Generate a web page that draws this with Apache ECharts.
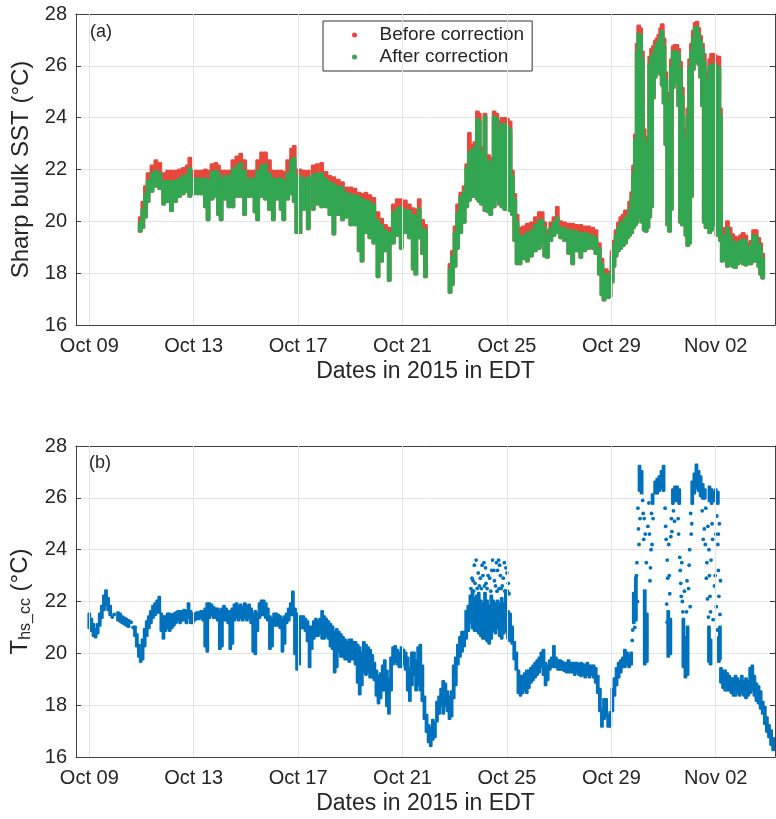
<!DOCTYPE html>
<html>
<head>
<meta charset="utf-8">
<title>Sharp bulk SST</title>
<script src="https://cdn.jsdelivr.net/npm/echarts@6/dist/echarts.min.js"></script>
<style>
    html, body { margin: 0; padding: 0; background: #fff; }
    #main { width: 776px; height: 819px; }
</style>
</head>
<body>
<div id="main"></div>
<script>
(function() {
    'use strict';

    // x values are days of October 2015 (Nov 01 = 32)
    var tickDays = [9, 13, 17, 21, 25, 29, 33];
    var tickLabels = ['Oct 09', 'Oct 13', 'Oct 17', 'Oct 21', 'Oct 25', 'Oct 29', 'Nov 02'];

    // panel (a): [day, after-correction low, after-correction high, before-correction high]
    var sstOct11to17 = [
        [10.95,19.65,19.9,20.1],[11.05,19.8,20.4,20.7],[11.15,20.2,21.0,21.3],[11.25,20.8,21.5,21.8],
        [11.4,21.2,21.8,22.1],[11.55,21.4,21.9,22.3],[11.7,21.3,21.8,22.2],[11.85,20.7,21.5,21.8],
        [12.0,20.8,21.5,21.9],[12.15,20.45,21.5,21.9],[12.3,20.8,21.5,21.9],[12.45,21.0,21.6,21.95],
        [12.6,21.1,21.7,22.0],[12.75,21.2,21.75,22.1],[12.85,21.0,22.0,22.4],[13.0,21.1,21.6,21.9],
        [13.15,21.1,21.6,21.9],[13.3,21.1,21.6,21.9],[13.45,20.6,21.6,21.95],[13.55,20.1,21.55,21.9],
        [13.7,20.9,21.85,22.15],[13.85,21.0,21.9,22.2],[13.95,20.3,21.8,22.1],[14.05,20.1,21.6,21.9],
        [14.2,20.9,21.7,21.9],[14.35,20.6,21.7,21.9],[14.5,20.6,21.95,22.3],[14.65,21.0,22.1,22.45],
        [14.8,21.0,22.2,22.55],[14.95,20.3,21.9,22.3],[15.1,21.0,21.6,21.9],[15.25,21.0,21.6,21.9],
        [15.35,20.4,21.6,21.9],[15.45,20.1,21.9,22.3],[15.6,21.0,22.1,22.6],[15.75,20.9,22.15,22.6],
        [15.9,20.5,21.8,22.3],[16.05,20.1,21.6,21.9],[16.2,20.9,21.6,21.9],[16.35,20.5,21.6,21.9],
        [16.45,20.1,21.5,21.85],[16.6,20.9,21.8,22.3],[16.75,21.1,22.3,22.75],[16.85,20.8,22.4,22.85],
        [16.95,19.6,21.7,21.95]
    ];
    var sstOct17to22 = [
        [17.07,19.6,21.7,21.95],[17.22,20.5,21.6,21.9],[17.39,19.75,21.65,21.9],[17.58,20.5,21.75,22.1],
        [17.73,20.7,21.8,22.15],[17.9,20.6,21.8,22.2],[18.07,20.6,21.6,21.85],[18.22,20.3,21.45,21.7],
        [18.37,19.55,21.4,21.65],[18.54,20.3,21.3,21.55],[18.7,20.1,21.25,21.45],[18.86,20.2,21.05,21.25],
        [19.02,19.9,21.0,21.25],[19.18,19.9,20.95,21.2],[19.34,18.9,20.9,21.05],[19.45,18.5,20.8,21.0],
        [19.6,19.6,20.75,21.05],[19.75,19.4,20.7,20.95],[19.9,19.2,20.6,20.85],[20.06,17.9,20.0,20.3],
        [20.2,18.5,19.8,20.05],[20.35,18.9,19.6,19.8],[20.49,17.75,19.5,19.7],[20.65,19.2,20.3,20.6],
        [20.8,19.5,20.45,20.8],[20.95,19.0,20.5,20.8],[21.11,19.6,20.4,20.75],[21.26,19.4,20.35,20.6],
        [21.41,18.2,20.2,20.45],[21.51,18.0,20.1,20.4],[21.64,19.4,20.45,20.8],[21.77,18.8,19.7,20.0],
        [21.88,17.9,19.6,19.8]
    ];
    var sstOct23to29 = [
        [22.82,17.3,18.1,18.3],[22.91,17.6,18.6,18.8],[23.01,18.3,19.5,19.75],[23.11,19.0,20.3,20.6],
        [23.23,19.6,20.9,21.05],[23.36,20.0,21.1,21.3],[23.46,20.6,22.0,22.15],[23.56,20.85,22.6,23.35],
        [23.66,21.0,22.7,22.9],[23.77,21.0,22.8,23.0],[23.87,20.9,23.9,24.18],[23.94,20.8,23.8,24.1],
        [24.03,20.7,22.6,22.8],[24.16,20.45,24.0,24.1],[24.29,20.4,22.3,22.5],[24.38,20.3,22.2,22.4],
        [24.51,20.6,24.0,24.18],[24.61,20.9,23.9,24.1],[24.71,20.7,23.4,23.8],[24.81,20.6,23.7,23.93],
        [24.92,20.5,23.7,23.93],[25.02,20.5,23.6,23.9],[25.12,20.45,23.5,23.8],[25.21,20.3,21.7,21.9],
        [25.3,19.3,20.8,21.0],[25.39,18.4,19.9,20.2],[25.5,18.4,19.4,19.7],[25.63,18.6,19.4,19.75],
        [25.78,18.5,19.5,19.85],[25.94,18.7,19.6,19.9],[26.09,18.9,19.8,20.1],[26.24,19.0,20.0,20.3],
        [26.35,19.2,20.0,20.3],[26.45,18.7,19.7,19.9],[26.55,18.65,19.4,19.6],[26.68,19.3,19.7,19.9],
        [26.8,19.5,19.9,20.1],[26.93,19.6,20.1,20.5],[27.06,19.4,19.7,19.95],[27.21,19.3,19.7,19.9],
        [27.37,18.8,19.6,19.85],[27.52,18.4,19.6,19.85],[27.67,18.9,19.55,19.8],[27.83,18.65,19.5,19.8],
        [27.98,18.9,19.5,19.75],[28.13,19.0,19.45,19.75],[28.29,19.0,19.4,19.7],[28.41,18.8,19.3,19.6],
        [28.54,18.0,18.9,19.1],[28.64,17.2,18.3,18.5],[28.72,17.0,17.8,18.0],[28.8,17.2,17.9,18.1],
        [28.88,17.1,17.8,18.0],[28.95,17.15,17.9,18.0],[29.03,17.7,18.6,18.8],[29.1,18.3,19.0,19.2],
        [29.18,18.7,19.4,19.6],[29.27,18.9,19.7,19.9],[29.36,19.0,19.9,20.1],[29.45,19.1,19.9,20.2],
        [29.54,19.2,20.1,20.36],[29.62,19.4,20.0,20.3],[29.7,19.5,20.4,20.7],[29.78,19.6,20.8,21.07]
    ];
    var sstOct30toNov02 = [
        [29.85,19.8,21.8,22.1],[29.92,19.9,23.1,23.3],[29.99,20.0,26.5,26.8],[30.05,20.2,27.2,27.5],
        [30.12,20.3,27.1,27.4],[30.19,20.0,26.2,26.5],[30.26,19.7,23.2,23.5],[30.33,19.65,22.9,23.2],
        [30.4,19.8,22.6,22.9],[30.47,20.2,26.0,26.3],[30.54,20.6,26.3,26.6],[30.61,24.8,26.4,26.7],
        [30.68,25.6,26.6,26.9],[30.75,25.8,26.8,27.0],[30.82,25.9,26.9,27.15],[30.89,25.7,27.1,27.4],
        [30.95,25.3,27.3,27.55],[31.02,24.6,26.7,27.0],[31.09,23.0,25.4,25.7],[31.16,19.9,24.2,24.5],
        [31.23,19.65,24.6,24.9],[31.3,20.5,25.9,26.2],[31.37,25.2,26.5,26.7],[31.44,25.6,26.5,26.75],
        [31.51,25.4,26.5,26.75],[31.58,24.5,26.4,26.6],[31.65,20.0,25.8,26.1],[31.72,19.9,24.8,25.1],
        [31.79,20.5,23.0,23.3],[31.86,19.5,23.2,23.5],[31.93,19.1,24.0,24.3],[32.0,19.2,25.9,26.2],
        [32.07,21.0,26.5,26.8],[32.14,25.9,27.0,27.3],[32.21,26.2,27.4,27.6],[32.28,26.3,27.45,27.65],
        [32.35,26.1,27.2,27.4],[32.42,25.6,26.9,27.1],[32.49,24.5,26.6,26.8],[32.56,20.0,26.1,26.4],
        [32.63,19.8,25.4,25.7],[32.7,20.0,24.0,24.3],[32.77,19.6,25.9,26.2],[32.84,19.7,26.0,26.4],
        [32.91,21.0,26.0,26.4],[32.98,19.9,26.0,26.35],[33.05,19.5,25.9,26.3],[33.12,19.6,25.9,26.3],
        [33.18,19.3,24.0,24.3]
    ];
    var sstNov02to04 = [
        [33.25,18.5,19.2,19.5],[33.35,18.6,19.4,19.7],[33.45,18.3,19.7,19.95],[33.55,18.4,19.4,19.7],
        [33.65,18.3,19.2,19.45],[33.75,18.25,19.15,19.35],[33.85,18.4,19.1,19.3],[33.95,18.5,19.2,19.4],
        [34.05,18.4,19.25,19.5],[34.15,18.35,19.2,19.4],[34.25,18.4,18.95,19.1],[34.35,18.4,19.0,19.2],
        [34.45,18.5,19.4,19.6],[34.55,18.5,19.4,19.6],[34.65,18.3,19.1,19.3],[34.72,18.0,18.9,19.1],
        [34.8,17.85,18.5,18.7]
    ];

    // panel (b): dense runs [day, low, high]
    var thsOct09to16 = [
        [9.0,21.0,21.5],[9.08,20.9,21.3],[9.16,20.7,21.1],[9.24,20.65,20.9],[9.32,20.8,21.1],
        [9.4,21.1,21.5],[9.48,21.4,21.8],[9.56,21.7,22.2],[9.64,21.9,22.4],[9.72,21.7,22.1],
        [9.8,21.5,21.8],[10.1,21.3,21.55],[10.18,21.25,21.5],[10.26,21.2,21.4],[10.34,21.15,21.35],
        [10.42,21.1,21.3],[10.5,21.05,21.25],[10.75,20.7,21.0],[10.82,20.3,20.7],[10.9,19.9,20.3],
        [10.97,19.7,20.0],[11.04,19.8,20.5],[11.12,20.3,20.9],[11.2,20.7,21.2],[11.28,21.0,21.4],
        [11.36,21.2,21.6],[11.44,21.4,21.8],[11.52,21.5,21.9],[11.6,21.6,22.0],[11.68,21.6,22.15],
        [11.76,20.9,21.5],[11.84,20.6,21.4],[11.92,20.9,21.4],[12.0,21.0,21.5],[12.08,20.9,21.5],
        [12.16,21.0,21.45],[12.24,21.1,21.5],[12.32,21.2,21.55],[12.4,21.3,21.6],[12.48,21.2,21.6],
        [12.56,21.3,21.6],[12.64,21.3,21.65],[12.72,21.2,21.6],[12.8,21.4,21.9],[12.88,21.2,21.6],
        [12.96,21.2,21.5],[13.04,21.3,21.5],[13.12,21.35,21.55],[13.2,21.35,21.55],[13.28,21.4,21.6],
        [13.36,21.3,21.6],[13.44,20.3,21.7],[13.52,20.1,21.9],[13.6,21.4,21.9],[13.68,21.5,21.85],
        [13.76,21.4,21.75],[13.84,21.4,21.7],[13.92,21.3,21.7],[14.0,20.2,21.6],[14.08,20.3,21.7],
        [14.16,21.3,21.8],[14.24,21.3,21.7],[14.32,21.2,21.6],[14.4,20.2,21.6],[14.48,20.4,21.7],
        [14.56,21.3,21.85],[14.64,21.4,21.9],[14.72,21.3,21.8],[14.8,21.4,21.85],[14.88,21.3,21.75],
        [14.96,21.4,21.9],[15.04,21.3,21.8],[15.12,21.4,21.85],[15.2,21.2,21.7],[15.28,20.1,21.5],
        [15.36,20.0,21.6],[15.44,20.9,21.5],[15.52,21.4,21.9],[15.6,21.5,22.0],[15.68,21.5,22.0],
        [15.76,21.4,21.9],[15.84,21.3,21.7],[15.92,20.2,21.4],[16.0,20.3,21.3],[16.08,21.1,21.5],
        [16.16,21.1,21.5],[16.24,21.1,21.45],[16.32,21.0,21.4],[16.4,20.1,21.3],[16.48,20.4,21.4],
        [16.56,21.2,21.5],[16.64,21.3,21.7],[16.72,21.5,21.9],[16.8,21.5,22.35]
    ];
    var thsOct17to23 = [
        [16.88,20.0,21.7],[16.96,19.4,21.5],[17.04,19.6,21.4],[17.12,21.0,21.4],[17.2,21.0,21.4],
        [17.28,20.9,21.3],[17.36,20.5,21.2],[17.44,19.5,21.0],[17.52,20.2,21.0],[17.6,20.6,21.2],
        [17.68,20.7,21.3],[17.76,20.7,21.2],[17.84,20.8,21.3],[17.92,20.6,21.6],[18.0,20.6,21.4],
        [18.08,20.7,21.3],[18.16,20.6,21.2],[18.24,20.3,21.1],[18.32,20.2,21.0],[18.4,19.3,20.8],
        [18.48,19.5,20.9],[18.56,20.1,20.8],[18.64,19.9,20.7],[18.72,19.9,20.6],[18.8,19.8,20.5],
        [18.88,19.8,20.4],[18.96,19.7,20.5],[19.04,19.8,20.5],[19.12,19.8,20.4],[19.2,19.6,20.4],
        [19.28,18.9,20.3],[19.36,18.45,20.2],[19.44,18.8,20.0],[19.52,19.3,20.4],[19.6,19.2,20.3],
        [19.68,19.3,20.2],[19.76,19.1,20.1],[19.84,19.1,19.9],[19.92,19.0,19.6],[20.0,18.4,19.3],
        [20.08,18.1,19.1],[20.16,18.3,19.2],[20.24,18.6,19.5],[20.32,18.6,19.7],[20.4,18.0,19.3],
        [20.48,17.7,19.0],[20.56,18.6,19.8],[20.64,19.6,20.2],[20.72,19.7,20.25],[20.8,19.6,20.1],
        [20.88,19.5,20.0],[20.96,19.5,20.2],[21.04,19.6,20.1],[21.12,19.4,20.0],[21.2,18.6,19.8],
        [21.28,18.2,19.4],[21.36,18.8,20.0],[21.44,19.2,20.0],[21.52,18.6,19.7],[21.6,18.8,20.2],
        [21.68,18.6,20.3],[21.76,18.2,19.5],[21.84,17.5,18.3],[21.92,17.0,17.6],[22.0,16.6,17.2],
        [22.08,16.45,17.1],[22.16,16.7,17.4],[22.24,16.8,17.3],[22.32,17.4,18.1],[22.4,17.7,18.3],
        [22.48,18.0,18.6],[22.56,17.7,18.9],[22.64,18.0,18.8],[22.72,17.8,18.5],[22.8,17.5,18.3],
        [22.88,17.6,18.5],[22.96,18.3,19.5],[23.04,18.8,19.8],[23.12,19.6,20.3],[23.2,19.9,20.6],
        [23.28,20.1,20.8],[23.36,20.3,20.8],[23.44,20.6,21.6],[23.52,20.9,21.8]
    ];
    var thsOct23to30 = [
        [23.6,21.2,22.2],[23.68,21.0,22.4],[23.76,20.9,22.1],[23.84,20.9,22.2],[23.92,20.8,22.3],
        [24.0,20.7,22.0],[24.08,20.6,21.9],[24.16,20.6,22.3],[24.24,20.5,22.0],[24.32,20.4,21.8],
        [24.4,20.6,22.2],[24.48,20.9,22.0],[24.56,20.8,21.9],[24.64,21.0,22.0],[24.72,20.7,21.9],
        [24.8,20.6,22.1],[24.88,20.8,21.9],[24.96,20.9,22.4],[25.04,20.6,21.6],[25.12,20.5,21.5],
        [25.2,20.4,21.0],[25.28,19.8,20.4],[25.36,19.4,20.0],[25.44,18.5,19.3],[25.52,18.4,19.1],
        [25.6,18.5,19.1],[25.68,18.6,19.2],[25.76,18.5,19.3],[25.84,18.7,19.3],[25.92,18.9,19.4],
        [26.0,19.0,19.5],[26.08,19.1,19.6],[26.16,19.2,19.7],[26.24,19.3,19.8],[26.32,19.5,20.0],
        [26.4,19.2,20.1],[26.48,18.8,19.6],[26.56,19.0,19.5],[26.64,19.4,19.7],[26.72,19.5,19.8],
        [26.8,19.5,20.25],[26.88,19.5,19.8],[26.96,19.4,19.7],[27.04,19.4,19.7],[27.12,19.4,19.65],
        [27.2,19.35,19.6],[27.28,19.3,19.6],[27.36,19.3,19.7],[27.44,19.3,19.6],[27.52,19.3,19.6],
        [27.6,19.2,19.6],[27.68,19.3,19.6],[27.76,19.2,19.55],[27.84,19.15,19.6],[27.92,19.2,19.55],
        [28.0,19.1,19.5],[28.08,19.2,19.6],[28.16,19.1,19.5],[28.24,19.2,19.5],[28.32,19.1,19.5],
        [28.4,18.9,19.4],[28.48,18.5,19.1],[28.56,17.8,18.6],[28.64,17.2,17.8],[28.72,17.5,18.2],
        [28.8,17.6,18.2],[28.88,17.2,17.6],[28.96,17.2,17.7],[29.04,17.8,18.6],[29.12,18.4,19.0],
        [29.2,18.8,19.4],[29.28,19.1,19.6],[29.36,19.3,19.7],[29.44,19.5,19.8],[29.52,19.5,20.1],
        [29.6,19.6,20.0],[29.68,19.5,19.9],[29.76,19.6,20.0]
    ];
    var thsOct30toNov04 = [
        [29.86,21.2,22.3],[29.94,21.3,22.9],[30.08,26.3,27.2],[30.16,26.2,27.0],[30.28,19.6,22.4],
        [30.36,19.7,21.5],[30.58,25.8,26.1],[30.68,26.2,26.6],[30.76,26.2,26.7],[30.84,26.3,26.8],
        [30.92,26.4,27.0],[31.0,26.3,27.2],[31.18,19.9,21.6],[31.26,20.0,21.3],[31.36,25.8,26.3],
        [31.44,25.9,26.4],[31.52,25.9,26.4],[31.6,25.8,26.3],[31.76,19.5,21.3],[31.84,19.1,20.6],
        [31.92,19.2,21.0],[32.1,25.8,26.6],[32.18,26.2,26.9],[32.26,26.4,27.25],[32.34,26.3,27.0],
        [32.42,26.1,26.8],[32.5,26.0,26.5],[32.58,26.0,26.3],[32.74,19.7,21.0],[32.76,25.9,26.4],
        [32.8,19.6,20.5],[32.84,25.8,26.3],[32.92,25.9,26.2],[33.0,25.9,26.3],[33.08,25.8,26.2],
        [33.12,19.7,20.6],[33.16,19.8,21.0],[33.2,18.9,19.4],[33.28,18.7,19.3],[33.36,18.6,19.3],
        [33.44,18.6,19.2],[33.52,18.6,19.1],[33.6,18.5,19.0],[33.68,18.4,19.0],[33.76,18.4,19.1],
        [33.84,18.5,19.0],[33.92,18.4,18.9],[34.0,18.5,19.1],[34.08,18.4,18.9],[34.16,18.3,19.0],
        [34.24,18.4,18.9],[34.32,18.5,19.4],[34.4,18.6,19.5],[34.48,18.4,19.1],[34.56,18.2,18.8],
        [34.64,18.1,18.7],[34.72,17.9,18.5],[34.8,17.7,18.1],[34.88,17.3,17.9],[34.96,17.0,17.5],
        [35.04,16.8,17.2],[35.12,16.5,17.0],[35.2,16.3,16.7]
    ];
    // panel (b): isolated points [day, value]
    var thsScatter = [
        [9.88,21.4],[9.95,21.5],[10.6,21.2],[10.68,21.0],
        [23.62,22.5],[23.66,22.9],[23.7,22.8],[23.72,22.4],[23.75,23.4],[23.78,22.7],[23.82,23.6],
        [23.86,22.5],[23.9,23.1],[23.94,22.6],[23.98,22.9],[24.02,22.5],[24.05,23.4],[24.08,23.0],
        [24.12,23.5],[24.14,22.6],[24.18,23.3],[24.2,22.7],[24.24,22.5],[24.28,23.0],[24.34,22.9],
        [24.38,22.4],[24.42,23.2],[24.45,23.6],[24.5,23.2],[24.52,22.8],[24.56,22.6],[24.6,23.5],
        [24.62,22.4],[24.64,23.2],[24.68,23.6],[24.7,22.5],[24.72,23.4],[24.75,23.0],[24.78,22.5],
        [24.82,22.6],[24.86,22.9],[24.9,23.5],[24.92,22.4],[24.96,23.3],[25.0,23.1],[25.02,22.4],
        [25.05,22.7],[25.08,22.3],
        [29.8,20.5],[29.82,20.9],[29.9,21.0],[29.96,23.0],[29.98,23.5],[30.0,22.0],[30.02,25.6],
        [30.04,24.8],[30.06,24.2],[30.1,25.2],[30.2,25.9],[30.22,25.4],[30.24,24.4],[30.26,25.2],
        [30.3,24.6],[30.34,23.5],[30.4,24.9],[30.44,25.8],[30.46,24.6],[30.48,22.8],[30.5,23.3],
        [30.52,24.0],[30.54,25.4],[30.56,24.2],[30.6,25.2],
        [31.06,25.6],[31.08,24.9],[31.1,24.4],[31.12,21.9],[31.14,23.6],[31.14,21.2],[31.16,22.9],
        [31.2,24.2],[31.22,23.0],[31.24,22.3],[31.28,24.5],[31.3,25.2],[31.32,24.7],[31.38,25.5],
        [31.42,25.1],[31.56,25.2],[31.58,24.6],[31.62,23.7],[31.64,23.2],[31.66,22.7],[31.68,22.2],
        [31.7,23.5],[31.72,22.0],[31.74,21.6],[31.8,22.4],[31.88,21.6],[31.9,22.8],
        [31.96,22.5],[31.98,23.4],[32.0,24.0],[32.02,21.8],[32.04,25.4],[32.06,24.6],[32.08,25.0],
        [32.48,25.5],[32.52,24.4],[32.56,24.8],[32.6,24.2],[32.62,25.6],[32.64,22.9],[32.66,23.5],
        [32.68,22.1],[32.7,24.9],[32.72,21.4],[32.74,24.0],[32.76,23.0],[32.78,22.2],[32.8,21.6],
        [32.82,23.6],[32.86,25.0],[32.88,24.4],[32.9,21.3],[32.95,22.6],[32.98,23.0],[33.0,24.6],
        [33.02,21.8],[33.04,25.3],[33.06,20.9],[33.08,24.2],[33.1,23.2],[33.1,24.6],[33.12,22.2],
        [33.14,25.0],[33.16,21.5],[33.18,22.8]
    ];

    var FONT = 'Liberation Sans, Arial, sans-serif';
    var TEXT = '#262626';
    var AXIS = '#404040';
    var GRID = '#e4e4e4';
    var RED = '#e8473b';
    var GREEN = '#33a651';
    var BLUE = '#0072bd';

    // draws one vertical run of points as a rounded bar
    function runItem(hiDim, width) {
        return function(params, api) {
            var x = api.value(0);
            var top = api.coord([x, api.value(hiDim)]);
            var bot = api.coord([x, api.value(1)]);
            var r = width / 2;
            return {
                type: 'rect',
                shape: { x: top[0] - r, y: top[1] - r, width: width, height: bot[1] - top[1] + width, r: r * 0.6 },
                style: { fill: api.visual('color') }
            };
        };
    }

    function xPair(grid) {
        var base = {
            type: 'value', gridIndex: grid, min: 8.49, max: 35.27,
            axisLine: { show: true, onZero: false, lineStyle: { color: AXIS } },
            axisTick: { show: true, inside: true, length: 5, customValues: tickDays, lineStyle: { color: AXIS } },
            splitLine: { show: false }
        };
        var bottom = echarts.util.merge({
            position: 'bottom',
            name: 'Dates in 2015 in EDT', nameLocation: 'middle', nameGap: 35,
            nameTextStyle: { fontSize: 23, color: TEXT, fontFamily: FONT },
            axisLabel: {
                customValues: tickDays, margin: 11, fontSize: 20, color: TEXT, fontFamily: FONT,
                formatter: function(v) { return tickLabels[tickDays.indexOf(v)]; }
            }
        }, base, true);
        var top = echarts.util.merge({ position: 'top', axisLabel: { show: false } }, base, true);
        return [bottom, top];
    }

    function yPair(grid, name, nameGap, rich) {
        var base = {
            type: 'value', gridIndex: grid, min: 16, max: 28, interval: 2,
            axisLine: { show: true, lineStyle: { color: AXIS } },
            axisTick: { show: true, inside: true, length: 5, lineStyle: { color: AXIS } }
        };
        var left = echarts.util.merge({
            position: 'left', name: name, nameLocation: 'middle', nameGap: nameGap, nameRotate: 90,
            nameTextStyle: { fontSize: 24, color: TEXT, fontFamily: FONT, rich: rich },
            axisLabel: { margin: 9, fontSize: 20, color: TEXT, fontFamily: FONT },
            splitLine: { show: true, lineStyle: { color: GRID } }
        }, base, true);
        var right = echarts.util.merge({
            position: 'right', axisLabel: { show: false }, splitLine: { show: false }
        }, base, true);
        return [left, right];
    }

    function vGrid(xi, yi) {
        return {
            type: 'line', xAxisIndex: xi, yAxisIndex: yi, data: [], silent: true, z: 1,
            markLine: {
                silent: true, symbol: 'none', label: { show: false }, animation: false,
                lineStyle: { color: GRID, type: 'solid', width: 1 },
                data: tickDays.map(function(d) { return { xAxis: d }; })
            }
        };
    }

    function runSeries(name, rows, xi, yi, hiDim, width, color) {
        return {
            name: name, type: 'custom', xAxisIndex: xi, yAxisIndex: yi, z: 3, clip: true,
            itemStyle: { color: color },
            encode: { x: 0, y: [1, hiDim] },
            renderItem: runItem(hiDim, width),
            data: rows
        };
    }

    var sstRows = [].concat(sstOct11to17, sstOct17to22, sstOct23to29, sstOct30toNov02, sstNov02to04);
    var thsRows = [].concat(thsOct09to16, thsOct17to23, thsOct23to30, thsOct30toNov04);

    var option = {
        backgroundColor: '#fff',
        animation: false,
        textStyle: { fontFamily: FONT },
        grid: [
            { left: 76, top: 14, width: 699, height: 311 },
            { left: 76, top: 446, width: 699, height: 311 }
        ],
        xAxis: xPair(0).concat(xPair(1)),
        yAxis: yPair(0, 'Sharp bulk SST (°C)', 38).concat(
            yPair(1, '{t|T}{s|hs_cc}{t| (°C)}', 40, {
                t: { fontSize: 24, color: TEXT, fontFamily: FONT },
                s: { fontSize: 16, color: TEXT, fontFamily: FONT, verticalAlign: 'bottom', padding: [10, 0, 0, 0] }
            })),
        legend: {
            left: 323, top: 21, orient: 'vertical',
            itemWidth: 40, itemHeight: 5, itemGap: 2,
            padding: [4, 8, 4, 29],
            borderColor: '#333', borderWidth: 1, backgroundColor: '#fff',
            textStyle: { fontSize: 19, color: TEXT, fontFamily: FONT, lineHeight: 20 },
            data: [
                { name: 'Before correction', icon: 'circle', itemStyle: { color: RED } },
                { name: 'After correction', icon: 'circle', itemStyle: { color: GREEN } }
            ]
        },
        graphic: [
            { type: 'text', left: 90, top: 23, style: { text: '(a)', fontSize: 18, fill: TEXT, fontFamily: FONT } },
            { type: 'text', left: 89, top: 454, style: { text: '(b)', fontSize: 18, fill: TEXT, fontFamily: FONT } }
        ],
        series: [
            vGrid(0, 0),
            vGrid(2, 2),
            runSeries('Before correction', sstRows, 0, 0, 3, 4.8, RED),
            runSeries('After correction', sstRows, 0, 0, 2, 4.8, GREEN),
            runSeries('Ths', thsRows, 2, 2, 2, 3.8, BLUE),
            {
                name: 'Ths points', type: 'scatter', xAxisIndex: 2, yAxisIndex: 2, z: 3,
                symbolSize: 3.8, itemStyle: { color: BLUE, opacity: 1 },
                data: thsScatter
            }
        ]
    };

    var chart = echarts.init(document.getElementById('main'));
    chart.setOption(option);
})();
</script>
</body>
</html>
